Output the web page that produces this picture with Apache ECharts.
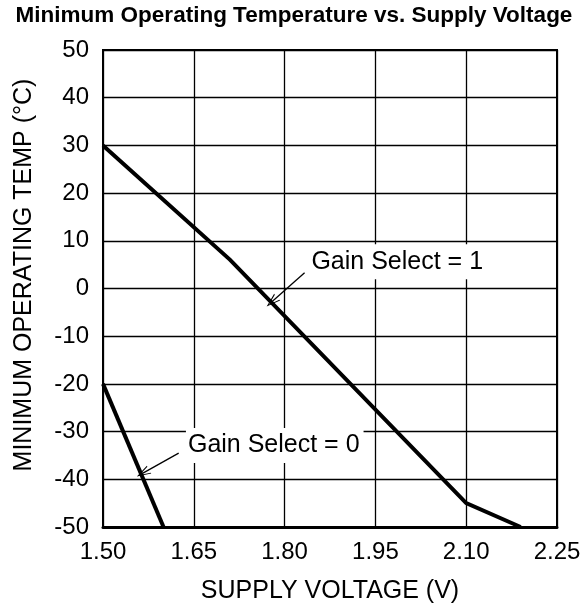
<!DOCTYPE html>
<html>
<head>
<meta charset="utf-8">
<script src="https://cdn.jsdelivr.net/npm/echarts@6/dist/echarts.min.js"></script>
<style>
html,body{margin:0;padding:0;background:#fff;}
#chart{width:588px;height:615px;}
</style>
</head>
<body>
<div id="chart"></div>
<script>
const titleText = 'Minimum Operating Temperature vs. Supply Voltage';
const xAxisTitle = 'SUPPLY VOLTAGE (V)';
const yAxisTitle = 'MINIMUM OPERATING TEMP (°C)';
const xMin = 1.50, xMax = 2.25, xStep = 0.15;
const yMin = -50, yMax = 50, yStep = 10;

// Gain Select = 1 curve: [voltage, temperature]
const gain1Voltage = [1.50, 1.71, 2.10, 2.19];
const gain1Temp    = [30, 6, -45, -50];
// Gain Select = 0 curve
const gain0Voltage = [1.50, 1.60];
const gain0Temp    = [-20, -50];

// annotations: label anchor and arrow [tail, tip] in data units
const label1 = { text: 'Gain Select = 1', at: [1.841, 5.6] };
const arrow1 = [[1.833, 3.3], [1.779, -2.8]];
const label0 = { text: 'Gain Select = 0', at: [1.637, -32.9] };
const arrow0 = [[1.625, -34.5], [1.566, -38.7]];

const FONT = '"Liberation Sans", Arial, Helvetica, sans-serif';
const zip = (xs, ys) => xs.map((x, i) => [x, ys[i]]);
const chevron = 'path://M5,0 L10,14 L8.8,14 L5,3.2 L1.2,14 L0,14 Z';

const chart = echarts.init(document.getElementById('chart'), null, { renderer: 'canvas' });

function annotationSeries(label, arrow) {
  return {
    type: 'line',
    data: [],
    silent: true,
    markPoint: {
      symbol: 'circle', symbolSize: 0, silent: true,
      data: [{ coord: label.at, value: label.text }],
      label: {
        show: true, formatter: label.text, position: 'inside',
        align: 'left', verticalAlign: 'middle',
        color: '#000', fontFamily: FONT, fontSize: 25,
        backgroundColor: '#fff', padding: [2, 4, 8, 2]
      }
    },
    markLine: {
      silent: true, animation: false,
      symbol: ['none', chevron], symbolSize: [9, 14],
      lineStyle: { color: '#000', width: 1.3, type: 'solid' },
      label: { show: false },
      data: [[{ coord: arrow[0] }, { coord: arrow[1] }]]
    }
  };
}

chart.setOption({
  animation: false,
  backgroundColor: '#fff',
  title: {
    text: titleText, left: 'center', top: 4, padding: 0,
    textStyle: { fontFamily: FONT, fontSize: 22.5, fontWeight: 'bold', color: '#000' }
  },
  grid: {
    left: 103, right: 31, top: 50, bottom: 88,
    show: true, borderColor: '#000', borderWidth: 2, backgroundColor: 'transparent'
  },
  xAxis: {
    type: 'value', min: xMin, max: xMax, interval: xStep,
    name: xAxisTitle, nameLocation: 'middle', nameGap: 52,
    nameTextStyle: { fontFamily: FONT, fontSize: 25, color: '#000' },
    axisLine: { show: true, onZero: false, lineStyle: { color: '#000', width: 3 } },
    axisTick: { show: false },
    axisLabel: { color: '#000', fontFamily: FONT, fontSize: 24, margin: 13,
      formatter: v => v.toFixed(2) },
    splitLine: { show: true, lineStyle: { color: '#000', width: 1.3 } }
  },
  yAxis: {
    type: 'value', min: yMin, max: yMax, interval: yStep,
    name: yAxisTitle, nameLocation: 'middle', nameGap: 66, nameRotate: 90,
    nameTextStyle: { fontFamily: FONT, fontSize: 25, color: '#000', padding: [0, 0, 0, 27] },
    axisLine: { show: true, onZero: false, lineStyle: { color: '#000', width: 2 } },
    axisTick: { show: false },
    axisLabel: { color: '#000', fontFamily: FONT, fontSize: 24, margin: 14 },
    splitLine: { show: true, lineStyle: { color: '#000', width: 1.3 } }
  },
  series: [
    annotationSeries(label1, arrow1),
    annotationSeries(label0, arrow0),
    {
      name: 'Gain Select = 1', type: 'line', data: zip(gain1Voltage, gain1Temp),
      showSymbol: false, symbol: 'none', z: 5,
      lineStyle: { color: '#000', width: 4, join: 'miter' }
    },
    {
      name: 'Gain Select = 0', type: 'line', data: zip(gain0Voltage, gain0Temp),
      showSymbol: false, symbol: 'none', z: 5,
      lineStyle: { color: '#000', width: 4 }
    }
  ]
});
</script>
</body>
</html>
